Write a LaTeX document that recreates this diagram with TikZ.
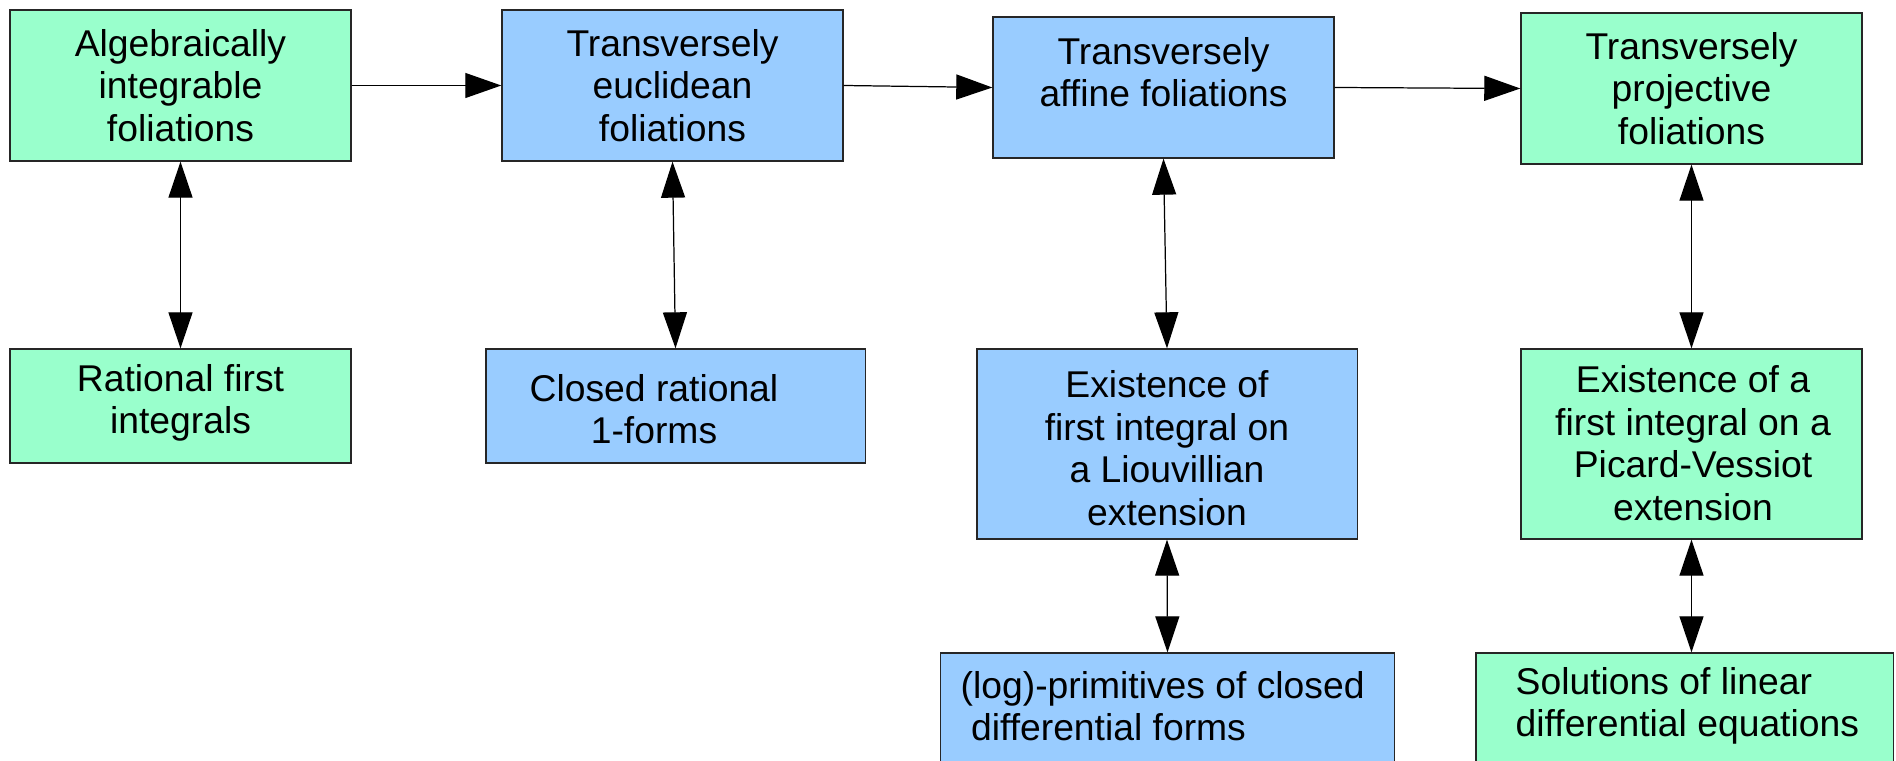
\documentclass[tikz,border=0pt]{standalone}
\usepackage{fontspec}
\setmainfont{Liberation Sans}
\usetikzlibrary{arrows.meta}
\definecolor{boxgreen}{HTML}{99FFCC}
\definecolor{boxblue}{HTML}{99CCFF}

\begin{document}
\begin{tikzpicture}[x=0.01cm, y=-0.01cm,
    box/.style={draw=black!85, line width=0.35pt, inner sep=0pt, minimum width=3.41cm},
    greenbox/.style={box, fill=boxgreen},
    bluebox/.style={box, fill=boxblue},
    txt/.style={align=center, inner sep=0pt, font=\fontsize{10.6}{12.1}\selectfont},
    lefttxt/.style={txt, align=left, anchor=west},
    onearrow/.style={-{Triangle[length=3.6mm,width=2.5mm]}, line width=0.35pt},
    twoarrow/.style={{Triangle[length=3.6mm,width=2.4mm]}-{Triangle[length=3.6mm,width=2.4mm]}, line width=0.35pt}]
    \clip (0,0) rectangle (1896,761);

    % Top row
    \node[greenbox, minimum height=1.51cm] (alg) at (180.5,85.5) {};
    \node[txt] (algtxt) at (alg.center) {Algebraically\\integrable\\foliations};
    \node[bluebox, minimum height=1.51cm] (eucl) at (672.5,85.5) {};
    \node[txt] (eucltxt) at (eucl.center) {Transversely\\euclidean\\foliations};
    \node[bluebox, minimum height=1.41cm] (aff) at (1163.5,87.5) {};
    \node[txt] (afftxt) at (1163.5,72) {Transversely\\affine foliations};
    \node[greenbox, minimum height=1.51cm] (proj) at (1691.5,88.5) {};
    \node[txt] (projtxt) at (proj.center) {Transversely\\projective\\foliations};

    % Middle row
    \node[greenbox, minimum height=1.14cm] (rat) at (180.5,406) {};
    \node[txt] (rattxt) at (180.5,403) {Rational first\\integrals};
    \node[bluebox, minimum width=3.79cm, minimum height=1.14cm] (closed) at (675.5,406) {};
    \node[txt] (closedtxt) at (654,409) {Closed rational\\1-forms};
    \node[bluebox, minimum width=3.80cm, minimum height=1.90cm] (liou) at (1167,444) {};
    \node[txt] (lioutxt) at (1167,448) {Existence of\\first integral on\\a Liouvillian\\extension};
    \node[greenbox, minimum height=1.90cm] (pv) at (1691.5,444) {};
    \node[txt] (pvtxt) at (1693,443) {Existence of a\\first integral on a\\Picard-Vessiot\\extension};

    % Bottom row
    \node[bluebox, minimum width=4.53cm, minimum height=1.47cm] (logp) at (1167.5,726.5) {};
    \node[lefttxt] (logptxt) at (960,706) {(log)-primitives of closed\\\ differential forms};
    \node[greenbox, minimum width=4.17cm, minimum height=1.47cm] (sol) at (1684.5,726.5) {};
    \node[lefttxt] (soltxt) at (1515,706) {Solutions of linear\\differential equations};

    % Horizontal arrows
    \draw[onearrow] (alg.east) -- (eucl.west);
    \draw[onearrow] (eucl.east) -- (aff.west);
    \draw[onearrow] (aff.east) -- (proj.west);

    % Double arrows
    \draw[twoarrow] (alg.south) -- (rat.north);
    \draw[twoarrow] (eucl.south) -- (closed.north);
    \draw[twoarrow] (aff.south) -- (liou.north);
    \draw[twoarrow] (proj.south) -- (pv.north);
    \draw[twoarrow] (liou.south) -- (logp.north);
    \draw[twoarrow] (pv.south) -- (pv.south |- sol.north);
\end{tikzpicture}
\end{document}
